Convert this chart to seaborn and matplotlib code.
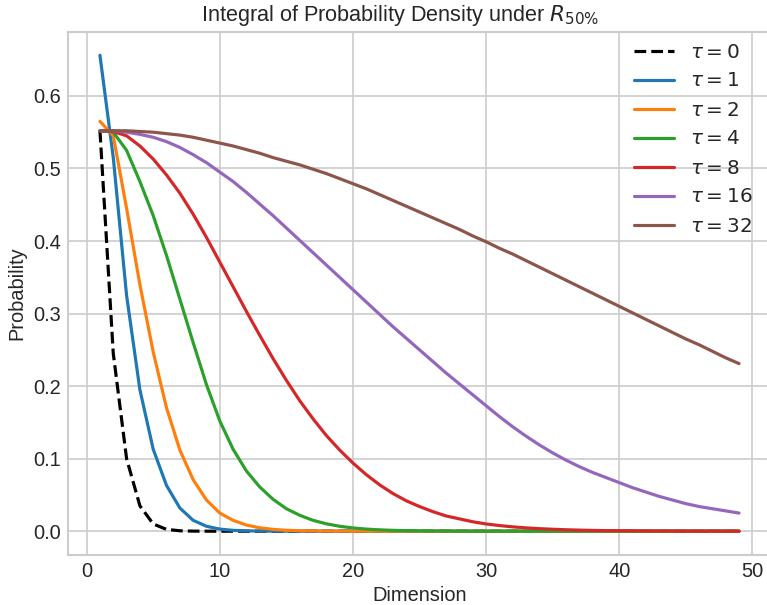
import matplotlib
matplotlib.use("Agg")
import matplotlib.pyplot as plt
import numpy as np
import pandas as pd
import seaborn as sns

# ---- data -------------------------------------------------------------
dims = list(range(1, 50))
tau_labels = ["0", "1", "2", "4", "8", "16", "32"]

tau0 = [0.552, 0.245, 0.100, 0.035, 0.010, 0.0025, 0.0006, 0.00012, 0.00002] + [0.0] * 40
tau1 = [0.656, 0.515, 0.325, 0.195, 0.113, 0.063, 0.032, 0.015, 0.0068, 0.0029,
        0.0012, 0.0005, 0.0002, 0.00008, 0.00003] + [0.0] * 34
tau2 = [0.565, 0.545, 0.445, 0.340, 0.247, 0.170, 0.112, 0.071, 0.043, 0.025,
        0.015, 0.0085, 0.0047, 0.0025, 0.0013, 0.0007, 0.00035, 0.00017, 0.00008,
        0.00004] + [0.0] * 29
tau4 = [0.552, 0.550, 0.525, 0.482, 0.435, 0.380, 0.320, 0.260, 0.202, 0.152,
        0.113, 0.083, 0.061, 0.044, 0.031, 0.022, 0.015, 0.0102, 0.0068, 0.0045,
        0.0029, 0.0019, 0.0012, 0.0008, 0.0005, 0.0003, 0.0002, 0.0001, 0.00006,
        0.00004] + [0.0] * 19
tau8 = [0.552, 0.551, 0.545, 0.531, 0.513, 0.491, 0.466, 0.437, 0.405, 0.371,
        0.337, 0.303, 0.270, 0.238, 0.208, 0.180, 0.155, 0.132, 0.112, 0.094,
        0.078, 0.064, 0.052, 0.042, 0.034, 0.027, 0.021, 0.017, 0.013, 0.010,
        0.0078, 0.006, 0.0046, 0.0035, 0.0027, 0.002, 0.0015, 0.0011, 0.0008, 0.0006,
        0.00045, 0.00033, 0.00024, 0.00017, 0.00012, 0.00009, 0.00006, 0.00004, 0.00003]
tau16 = [0.552, 0.552, 0.550, 0.547, 0.543, 0.537, 0.529, 0.519, 0.508, 0.495,
         0.482, 0.467, 0.451, 0.435, 0.418, 0.401, 0.384, 0.367, 0.350, 0.333,
         0.316, 0.299, 0.282, 0.266, 0.250, 0.234, 0.218, 0.203, 0.188, 0.173,
         0.158, 0.144, 0.131, 0.119, 0.108, 0.098, 0.089, 0.081, 0.074, 0.067,
         0.060, 0.054, 0.048, 0.043, 0.038, 0.034, 0.031, 0.028, 0.025]
tau32 = [0.552, 0.552, 0.552, 0.551, 0.550, 0.548, 0.546, 0.543, 0.539, 0.535,
         0.531, 0.526, 0.521, 0.515, 0.510, 0.505, 0.499, 0.493, 0.486, 0.479,
         0.472, 0.464, 0.456, 0.448, 0.440, 0.432, 0.424, 0.416, 0.407, 0.399,
         0.390, 0.382, 0.373, 0.364, 0.355, 0.346, 0.337, 0.328, 0.319, 0.310,
         0.301, 0.292, 0.283, 0.274, 0.265, 0.257, 0.248, 0.239, 0.231]

series = [tau0, tau1, tau2, tau4, tau8, tau16, tau32]
colors = ["black", "#1f77b4", "#ff7f0e", "#2ca02c", "#d62728", "#9467bd", "#8c564b"]
styles = ["--", "-", "-", "-", "-", "-", "-"]

# ---- style -------------------------------------------------------------
sns.set_theme(style="whitegrid")
plt.rcParams["font.family"] = ["Liberation Sans", "DejaVu Sans"]
plt.rcParams["mathtext.fontset"] = "dejavusans"

fig = plt.figure(figsize=(767 / 120, 605 / 120), dpi=120)
ax = fig.add_axes([68 / 767, 50 / 605, 703 / 767, 523.5 / 605])

for lab, vals, c, ls in zip(tau_labels, series, colors, styles):
    sns.lineplot(x=dims, y=vals, ax=ax, color=c, linestyle=ls, linewidth=1.9,
                 label=r"$\tau = %s$" % lab)

ax.set_title(r"Integral of Probability Density under $R_{50\%}$", fontsize=13,
             pad=6, x=(400 - 68) / 703)
ax.set_xlabel("Dimension", fontsize=12, labelpad=3)
ax.set_ylabel("Probability", fontsize=12, labelpad=4)
ax.tick_params(axis="both", labelsize=12, length=0, pad=4.2)
ax.set_xticks([0, 10, 20, 30, 40, 50])
ax.legend(loc="upper right", fontsize=12, frameon=False, borderaxespad=0,
          bbox_to_anchor=((761 - 68) / 703, (555 - 34.5) / 523.5))

fig.savefig("out.png", dpi=120)
